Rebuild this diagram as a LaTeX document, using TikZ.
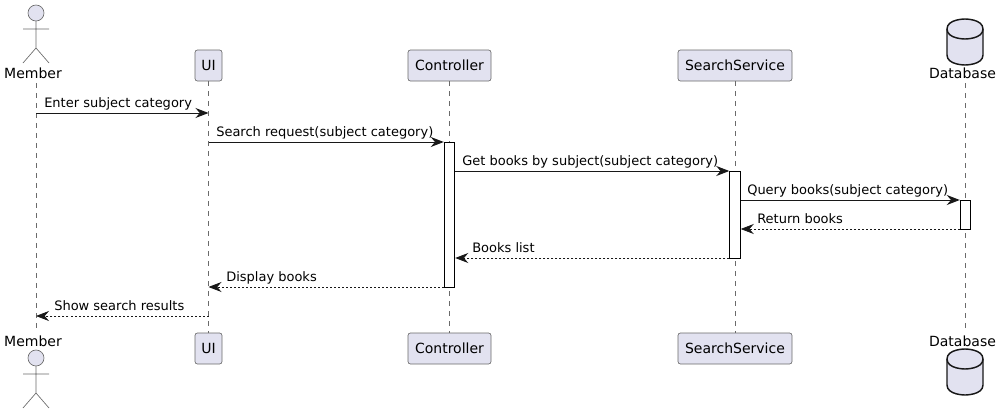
\documentclass[tikz,border=0pt]{standalone}
\usepackage{fontspec}
\setmainfont{DejaVu Sans}
\usetikzlibrary{arrows.meta,calc}
\definecolor{boxfill}{HTML}{E2E2F0}
\definecolor{boxline}{HTML}{6A6A6A}
\definecolor{dbline}{HTML}{181818}
\tikzset{
    partbox/.style={draw=boxline, line width=0.5pt, fill=boxfill, rounded corners=1.8pt, minimum height=23.25pt, inner sep=0pt, font=\fontsize{10.5}{12.6}\selectfont},
    partname/.style={inner sep=0pt, anchor=base, text=black, font=\fontsize{10.5}{12.6}\selectfont},
    lifeline/.style={draw=boxline, line width=0.4pt, dash pattern=on 3.75pt off 3.75pt},
    actbar/.style={draw=black, line width=0.7pt, fill=white, minimum width=7.9pt, inner sep=0pt},
    call/.style={draw=dbline, line width=0.75pt, -{Stealth[length=9.75pt,width=7.5pt,inset=3.2pt]}},
    reply/.style={call, line width=0.55pt, dash pattern=on 1.5pt off 1.5pt},
    msgtext/.style={inner sep=0pt, anchor=base west, text=black, font=\fontsize{9.75}{11.7}\selectfont},
    actorfig/.pic={
        \draw[boxline, line width=0.5pt, fill=boxfill] (0,-35) circle (6pt);
        \draw[boxline, line width=0.5pt] (0,-27) -- (0,0) (-13,-19) -- (13,-19) (-13,15) -- (0,0) -- (13,15);
    },
    dbfig/.pic={
        \draw[dbline, line width=1.1pt, fill=boxfill] (-18,-13) .. controls (-18,-23) and (0,-23) .. (0,-23) .. controls (0,-23) and (18,-23) .. (18,-13) -- (18,13) .. controls (18,23) and (0,23) .. (0,23) .. controls (0,23) and (-18,23) .. (-18,13) -- cycle;
        \draw[dbline, line width=1.1pt] (-18,-13) .. controls (-18,-3) and (0,-3) .. (0,-3) .. controls (0,-3) and (18,-3) .. (18,-13);
    }
}

\begin{document}
\begin{tikzpicture}[x=0.75pt, y=-0.75pt]
\useasboundingbox (0,0) rectangle (1001,414);
% Draw participants
\pic at (36,48) {actorfig};
\pic at (36,393) {actorfig};
\pic at (965,42) {dbfig};
\pic at (965,372) {dbfig};
\node[partname] (memberTop) at (33,78) {Member};
\node[partname] (memberBot) at (33,346) {Member};
\node[partname] (databaseTop) at (962.5,78) {Database};
\node[partname] (databaseBot) at (962.5,346) {Database};
\node[partbox, minimum width=20.25pt] (uiTop) at (208.5,65.5) {UI};
\node[partbox, minimum width=20.25pt] (uiBot) at (208.5,348.5) {UI};
\node[partbox, minimum width=62.25pt] (controllerTop) at (449.5,65.5) {Controller};
\node[partbox, minimum width=62.25pt] (controllerBot) at (449.5,348.5) {Controller};
\node[partbox, minimum width=85.5pt] (searchTop) at (735,65.5) {SearchService};
\node[partbox, minimum width=85.5pt] (searchBot) at (735,348.5) {SearchService};
% Draw lifelines
\coordinate (memberStart) at (36,83);
\coordinate (memberEnd) at (36,331);
\coordinate (databaseStart) at (965,83);
\coordinate (databaseEnd) at (965,331);
\draw[lifeline] (memberStart) -- (memberEnd);
\draw[lifeline] (uiTop) -- (uiBot);
\draw[lifeline] (controllerTop) -- (controllerBot);
\draw[lifeline] (searchTop) -- (searchBot);
\draw[lifeline] (databaseStart) -- (databaseEnd);
\foreach \n/\x in {member/36, ui/208.5, controller/449.5, search/735, database/965}
    \foreach \r/\y in {1/113, 2/142, 3/171, 4/200, 5/229, 6/258, 7/287, 8/316}
        \coordinate (\n\r) at (\x,\y);
% Draw activation bars
\node[actbar, minimum height=108.75pt] (controllerBar) at (449.5,214.5) {};
\node[actbar, minimum height=65.25pt] (searchBar) at (735,214.5) {};
\node[actbar, minimum height=21.75pt] (databaseBar) at (965.5,214.5) {};
% Draw messages
\draw[call] (member1) -- (ui1);
\draw[call] (ui2) -- (controller2 -| controllerBar.west);
\draw[call] (controller3 -| controllerBar.east) -- (search3 -| searchBar.west);
\draw[call] (search4 -| searchBar.east) -- (database4 -| databaseBar.west);
\draw[reply] (database5 -| databaseBar.west) -- (search5 -| searchBar.east);
\draw[reply] (search6 -| searchBar.west) -- (controller6 -| controllerBar.east);
\draw[reply] (controller7 -| controllerBar.west) -- (ui7);
\draw[reply] (ui8) -- (member8);
% Draw message labels
\node[msgtext] (enterText) at ($(member1)+(8,-6)$) {Enter subject category};
\node[msgtext] (requestText) at ($(ui2)+(7.5,-6)$) {Search request(subject category)};
\node[msgtext] (getText) at ($(controller3)+(12.5,-6)$) {Get books by subject(subject category)};
\node[msgtext] (queryText) at ($(search4)+(12,-6)$) {Query books(subject category)};
\node[msgtext] (returnText) at ($(search5)+(22,-6)$) {Return books};
\node[msgtext] (listText) at ($(controller6)+(22.5,-6)$) {Books list};
\node[msgtext] (displayText) at ($(ui7)+(17.5,-6)$) {Display books};
\node[msgtext] (showText) at ($(member8)+(18,-6)$) {Show search results};
\end{tikzpicture}
\end{document}
